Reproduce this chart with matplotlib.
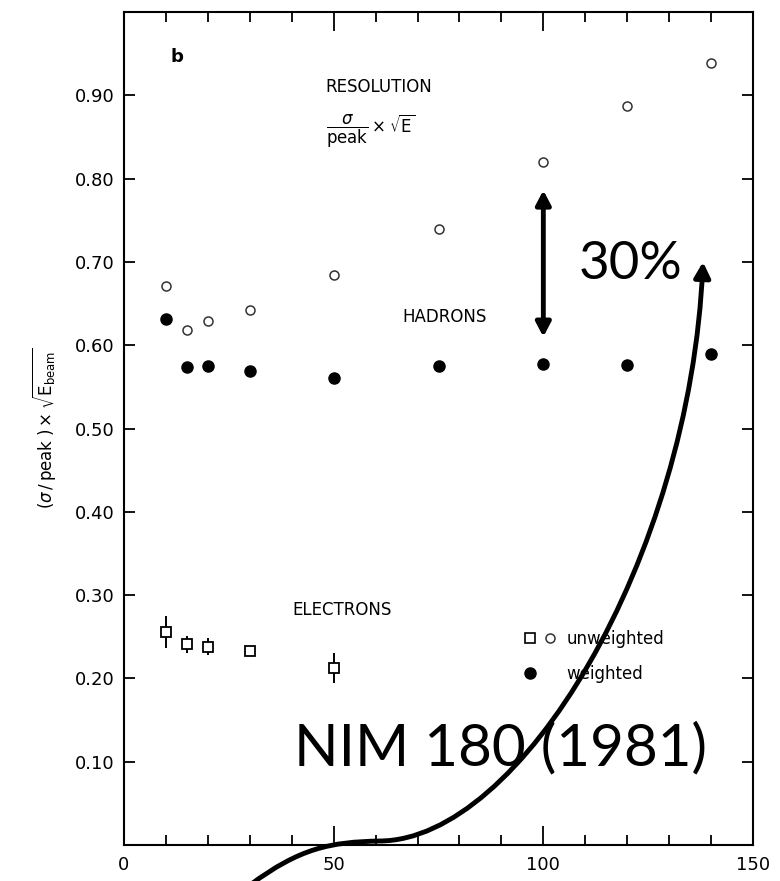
import numpy as np
import matplotlib.pyplot as plt
from matplotlib.path import Path
from matplotlib.patches import FancyArrowPatch
from matplotlib.lines import Line2D
from matplotlib.legend_handler import HandlerTuple

# beam energy (GeV) and resolution values
energy = [10, 15, 20, 30, 50, 75, 100, 120, 140]
had_unweighted = [0.671, 0.618, 0.629, 0.642, 0.684, 0.739, 0.820, 0.887, 0.939]
had_weighted = [0.631, 0.574, 0.575, 0.569, 0.561, 0.575, 0.577, 0.576, 0.589]

ele_energy = [10, 15, 20, 30, 50]
ele_unweighted = [0.256, 0.241, 0.238, 0.233, 0.212]
ele_err = [0.019, 0.010, 0.010, 0.0, 0.018]

xticks = [0, 50, 100, 150]
yticks = [0.1, 0.2, 0.3, 0.4, 0.5, 0.6, 0.7, 0.8, 0.9]

# 30% gap between weighted and unweighted at 100 GeV
gap_x = 100
gap_lo, gap_hi = 0.610, 0.786

W, H = 780, 881
fig = plt.figure(figsize=(W / 100, H / 100), dpi=100)
ax = fig.add_axes([124 / W, 36 / H, 629 / W, 833 / H])
ax.set_xlim(0, 150)
ax.set_ylim(0, 1.0)

ax.plot(energy, had_unweighted, 'o', ms=6.5, mfc='white', mec='#333333', mew=1.1, ls='none')
ax.plot(energy, had_weighted, 'o', ms=8, color='black', ls='none')
ax.errorbar(ele_energy, ele_unweighted, yerr=ele_err, fmt='s', ms=6.5, mfc='white',
            mec='black', mew=1.3, ecolor='black', elinewidth=1.4, capsize=0)

# axes and ticks
for s in ax.spines.values():
    s.set_linewidth(1.5)
ax.set_xticks(xticks)
ax.set_xticks(range(0, 151, 10), minor=True)
ax.set_yticks(yticks)
ax.set_yticklabels([f'{v:.2f}' for v in yticks])
ax.tick_params(which='both', direction='in', top=True, right=True, width=1.3)
ax.tick_params(axis='x', which='major', length=14, labelsize=13, pad=8)
ax.tick_params(axis='x', which='minor', length=7)
ax.tick_params(axis='y', which='major', length=8, labelsize=13, pad=7)
ax.set_ylabel(r'$(\sigma\,/\,\mathrm{peak}\;)\times\sqrt{\mathrm{E}_{\mathrm{beam}}}$', fontsize=12, labelpad=12)

ax.text(11.2, 0.946, 'b', fontsize=13, fontweight='bold', va='center')
ax.text(48.1, 0.910, 'RESOLUTION', fontsize=12, va='center')
ax.text(48.1, 0.857, r'$\dfrac{\sigma}{\mathrm{peak}}\times\sqrt{\mathrm{E}}$', fontsize=12, va='center')
ax.text(66.3, 0.634, 'HADRONS', fontsize=12, va='center')
ax.text(40.2, 0.282, 'ELECTRONS', fontsize=12, va='center')

# legend
h_sq = Line2D([], [], marker='s', ls='none', ms=6.5, mfc='white', mec='black', mew=1.2)
h_oc = Line2D([], [], marker='o', ls='none', ms=6.5, mfc='white', mec='#333333', mew=1.1)
h_fc = Line2D([], [], marker='o', ls='none', ms=8, color='black')
h_blank = Line2D([], [], ls='none')
ax.legend([(h_sq, h_oc), (h_fc, h_blank)], ['unweighted', 'weighted'],
          handler_map={tuple: HandlerTuple(ndivide=None, pad=0.4)},
          loc='upper left', bbox_to_anchor=(0.635, 0.258), frameon=False, fontsize=12,
          handlelength=2.0, handletextpad=0.6, labelspacing=1.0,
          borderaxespad=0, borderpad=0)

# overlay annotations
ax.annotate('', xy=(gap_x, gap_hi), xytext=(gap_x, gap_lo),
            arrowprops=dict(arrowstyle='<|-|>,head_length=0.42,head_width=0.22',
                            lw=3.5, color='black', shrinkA=0, shrinkB=0,
                            mutation_scale=20))
ax.text(120.8, 0.697, '30%', fontsize=38, family='Lato', ha='center', va='center')
ax.text(89.7, 0.116, 'NIM 180 (1981)', fontsize=42, family='Lato', ha='center', va='center')

# swooping arrow (figure pixels, origin top-left)
curve_px = [(250, 885), (300, 848), (330, 842), (380, 841),
            (520, 840), (690, 560), (703, 262)]
verts = [(x / W, 1 - y / H) for x, y in curve_px]
codes = [Path.MOVETO] + [Path.CURVE4] * 6
swoop = FancyArrowPatch(path=Path(verts, codes),
                        arrowstyle='-|>,head_length=0.45,head_width=0.24',
                        mutation_scale=20, lw=3.5, color='black',
                        transform=fig.transFigure, zorder=10)
fig.add_artist(swoop)

fig.savefig('out.png', dpi=100)
